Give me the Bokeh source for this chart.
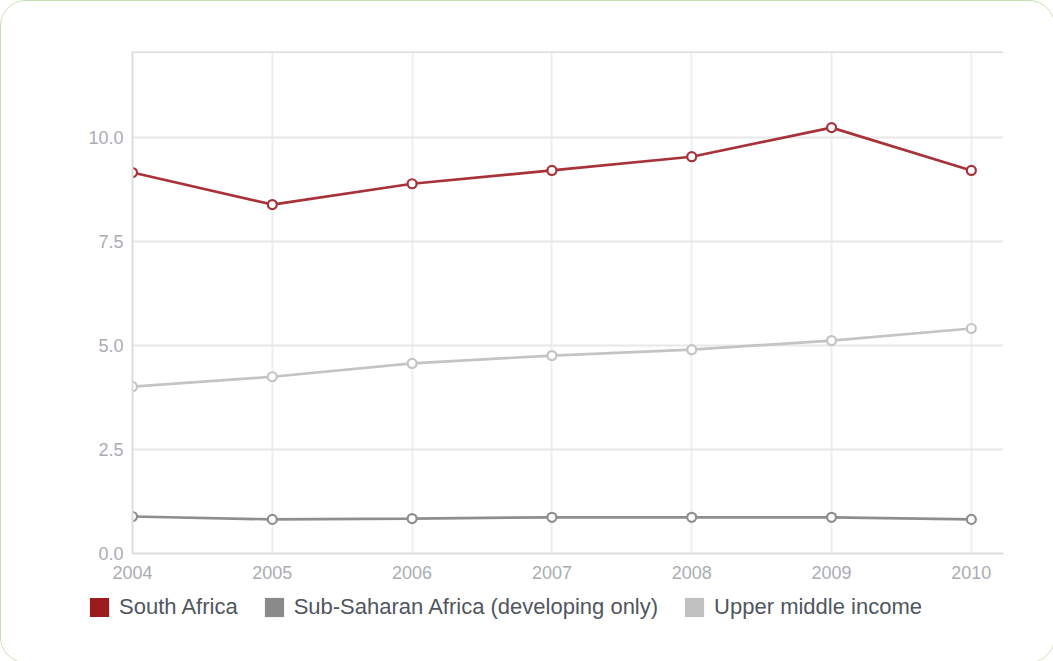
from bokeh.plotting import figure
from bokeh.layouts import column
from bokeh.models import (Range1d, FixedTicker, Legend, LegendItem, Span,
                          CustomJSTickFormatter)
from bokeh.embed import file_html
from bokeh.resources import INLINE

years = [2004, 2005, 2006, 2007, 2008, 2009, 2010]
south_africa = [9.16, 8.39, 8.89, 9.21, 9.54, 10.24, 9.21]
sub_saharan = [0.89, 0.82, 0.84, 0.87, 0.87, 0.87, 0.82]
upper_middle = [4.01, 4.25, 4.57, 4.76, 4.90, 5.12, 5.41]
y_ticks = [0.0, 2.5, 5.0, 7.5, 10.0]

series = [
    ("South Africa", south_africa, "#a8323a", "#9b1b1f"),
    ("Sub-Saharan Africa (developing only)", sub_saharan, "#8e8e8e", "#8a8a8a"),
    ("Upper middle income", upper_middle, "#c4c4c4", "#c0c0c0"),
]

TICK_COLOR = "#a9adb3"

p = figure(width=1053, height=580, output_backend="svg", toolbar_location=None,
           x_range=Range1d(2004, 2010.23), y_range=Range1d(0, 12.07),
           min_border_left=131, min_border_right=51, min_border_top=50,
           min_border_bottom=28)
p.frame_align = False
p.outline_line_color = None
p.background_fill_color = "white"
p.border_fill_color = "white"

# axes
p.xaxis.ticker = FixedTicker(ticks=years)
p.yaxis.ticker = FixedTicker(ticks=y_ticks)
p.yaxis.formatter = CustomJSTickFormatter(code="return tick.toFixed(1);")
for ax in (p.xaxis[0], p.yaxis[0]):
    ax.axis_line_color = "#dcdcdc"
    ax.axis_line_width = 2
    ax.major_tick_line_color = None
    ax.minor_tick_line_color = None
    ax.major_label_text_color = TICK_COLOR
    ax.major_label_text_font = "Liberation Sans"
    ax.major_label_text_font_size = "18px"
p.xaxis.major_label_standoff = 6
p.yaxis.major_label_standoff = 3

p.xgrid.ticker = FixedTicker(ticks=years)
p.ygrid.ticker = FixedTicker(ticks=y_ticks)
p.xgrid.grid_line_color = "#efefef"
p.xgrid.grid_line_width = 2
p.ygrid.grid_line_color = "#e8e8e8"
p.ygrid.grid_line_width = 2

p.add_layout(Span(location=12.07, dimension="width", line_color="#dcdcdc",
                  line_width=3))

for name, vals, line_col, swatch_col in series:
    p.line(years, vals, line_color=line_col, line_width=2.7)
    p.scatter(years, vals, size=9, marker="circle", fill_color="white",
              line_color=line_col, line_width=2.2)

# legend strip underneath the chart
leg = figure(width=1053, height=81, output_backend="svg", toolbar_location=None,
             x_range=Range1d(0, 1), y_range=Range1d(0, 1),
             min_border=0, min_border_left=0, min_border_right=0,
             min_border_top=0, min_border_bottom=0,
             x_axis_type=None, y_axis_type=None)
leg.frame_align = False
leg.outline_line_color = None
leg.grid.visible = False
leg.border_fill_color = "white"
leg.background_fill_color = "white"

items = []
for name, vals, line_col, swatch_col in series:
    sw = leg.quad(left=[0], right=[0], bottom=[0], top=[0],
                  fill_color=swatch_col, line_color=None)
    items.append(LegendItem(label=name, renderers=[sw]))

legend = Legend(items=items, orientation="horizontal", location=(86, 42),
                glyph_width=24, glyph_height=24, label_standoff=8, spacing=24,
                padding=0, margin=0, border_line_color=None,
                background_fill_alpha=0, label_text_font="Liberation Sans",
                label_text_font_size="22px", label_text_color="#50565e",
                label_height=24)
leg.add_layout(legend, "center")

layout = column(p, leg, spacing=0)
layout.styles = {"border": "1px solid #c6dfb2", "border-radius": "26px",
                 "box-sizing": "border-box", "overflow": "hidden",
                 "background": "white"}

open("out.html", "w").write(file_html(layout, INLINE))
